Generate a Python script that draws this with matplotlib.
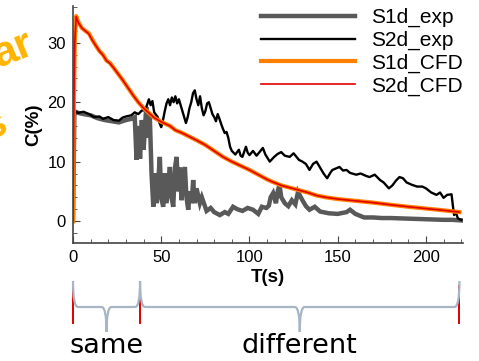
import matplotlib
matplotlib.use("Agg")
import matplotlib.pyplot as plt
from matplotlib.path import Path
from matplotlib.patches import PathPatch
from matplotlib.ticker import MultipleLocator
import matplotlib.transforms as mtransforms

plt.rcParams['font.family'] = ['Liberation Sans', 'DejaVu Sans']

# S1d_exp (gray)
t_s1_exp = [0, 0.8, 3, 6, 10, 14, 18, 22, 26, 30, 33, 35, 36, 37, 38, 39, 40, 41.5, 42.5, 43.5,
            44.5, 45.5, 46.5, 47.5, 49.2, 50, 51.1, 52, 53, 54.9, 55.8, 56.8, 57.8, 58.7, 59.7,
            60.5, 61.5, 62.4, 63.4, 64.3, 65.3, 66.2, 67.2, 68.1, 69, 70, 71.9, 73, 75.7, 78, 80,
            83.2, 86, 88, 90.7, 93, 96, 99, 102, 105, 107, 109.6, 111, 112, 113.4, 115, 116, 117,
            118, 120, 122, 124, 126, 127.5, 130, 132, 134, 137, 140, 145, 150, 155, 157, 160, 165,
            170, 175, 180, 190, 200, 210, 215, 220]
c_s1_exp = [0, 18.5, 18.2, 18.0, 17.8, 17.3, 17.0, 16.8, 16.6, 17.0, 17.2, 17.5, 10.3, 16.0, 10.5,
            17.0, 12.0, 19.2, 14.0, 18.0, 8.0, 2.4, 8.0, 3.0, 10.8, 4.0, 2.4, 8.0, 3.0, 9.1, 4.0,
            2.4, 9.0, 10.8, 5.0, 9.0, 3.5, 7.0, 9.1, 4.0, 1.9, 5.0, 3.0, 6.9, 3.0, 5.5, 3.0, 4.0,
            1.7, 2.2, 1.5, 1.0, 1.5, 1.2, 2.4, 2.0, 1.7, 2.2, 1.9, 1.2, 2.4, 2.2, 2.6, 4.0, 4.7,
            3.0, 5.0, 6.1, 4.0, 3.0, 2.5, 3.5, 2.8, 4.9, 3.5, 2.5, 1.9, 2.4, 1.6, 1.3, 1.2, 1.5,
            1.9, 1.2, 0.6, 0.6, 0.5, 0.5, 0.4, 0.3, 0.2, 0.2, 0.1]

# S2d_exp (black)
t_s2_exp = [0, 0.8, 3, 6, 9, 12, 15, 17, 20, 23, 26, 28, 30, 33, 35, 37, 39, 41, 43, 44, 45, 46,
            48, 49, 50, 51, 52, 53, 54, 55, 56, 57, 58, 59, 60, 62, 63, 64, 65, 66, 67, 68, 69,
            70, 71, 72, 73, 74, 75, 76, 77, 78, 79, 80, 81, 82, 83, 84, 85, 86, 87, 88, 89, 90,
            92, 94, 95, 96, 98, 99, 100, 102, 104, 107.6, 109, 111.5, 114, 116, 118, 120, 122.8,
            125, 128, 130, 132, 134, 136, 138, 140, 142, 144, 146, 147, 151, 153, 155, 157,
            160.5, 163, 166, 168, 171, 174, 176, 179, 181, 183, 185, 187, 189, 192, 195, 198,
            200, 203, 206, 208, 210, 212, 214.5, 215.5, 216, 217, 218, 219, 220]
c_s2_exp = [0, 18.5, 18.2, 18.4, 18.0, 17.5, 17.6, 17.2, 17.5, 17.0, 16.9, 17.4, 17.6, 17.8, 18.3,
            18.0, 18.6, 18.7, 20.5, 19.5, 20.2, 18.3, 17.5, 16.5, 15.8, 17.0, 18.5, 19.8, 20.5,
            19.5, 20.8, 20.0, 21.0, 19.8, 20.5, 18.5, 17.5, 16.5, 17.5, 19.0, 20.0, 21.5, 22.0,
            20.5, 19.5, 21.0, 19.0, 17.8, 18.5, 19.8, 20.0, 19.0, 18.0, 17.5, 16.8, 18.0, 17.2,
            16.3, 15.5, 14.8, 15.0, 14.0, 12.5, 11.8, 11.2, 12.0, 11.0, 10.8, 12.5, 11.5, 11.1,
            11.8, 11.0, 12.3, 11.2, 10.0, 10.8, 11.3, 11.6, 11.0, 10.8, 11.4, 10.3, 10.0, 9.6,
            8.6, 9.6, 10.0, 9.0, 8.0, 7.2, 8.2, 8.6, 9.1, 8.5, 8.6, 8.1, 7.8, 8.0, 7.6, 7.4, 7.8,
            6.9, 6.5, 5.5, 6.0, 6.8, 7.4, 7.2, 6.5, 6.1, 5.8, 5.8, 5.5, 4.8, 4.4, 4.8, 3.9, 4.4,
            4.5, 2.0, 1.0, 1.5, 0.5, 0.3, 0.2]

# S1d_CFD / S2d_CFD (nearly identical)
t_cfd = [0, 0.5, 1, 1.8, 3, 5, 7, 9, 11, 13, 15, 17, 19, 21, 23, 25, 28, 31, 34, 37, 40, 43, 46,
         50, 55, 58, 62, 66, 70, 75, 80, 85, 90, 95, 100, 105, 110, 113, 118, 123, 128, 133, 138,
         143, 150, 160, 170, 181, 190, 200, 210, 219]
c_s1_cfd = [0, 20, 30, 34.5, 33.5, 32.5, 32.0, 31.6, 30.5, 29.5, 28.6, 28.0, 27.0, 26.6, 25.8,
            25.0, 23.8, 22.5, 21.2, 20.0, 19.0, 18.2, 17.4, 16.7, 16.0, 15.3, 14.8, 14.2, 13.6,
            12.8, 11.8, 10.8, 10.0, 9.3, 8.6, 7.8, 7.0, 6.6, 6.0, 5.6, 5.2, 4.8, 4.3, 4.0, 3.7,
            3.4, 3.1, 2.7, 2.4, 2.1, 1.8, 1.5]
c_s2_cfd = [0, 20, 30, 34.4, 33.4, 32.5, 32.0, 31.5, 30.4, 29.5, 28.6, 27.9, 27.0, 26.5, 25.8,
            25.0, 23.8, 22.5, 21.2, 20.0, 19.0, 18.2, 17.4, 16.7, 16.0, 15.3, 14.8, 14.2, 13.6,
            12.8, 11.8, 10.8, 10.0, 9.3, 8.6, 7.8, 7.0, 6.6, 6.0, 5.6, 5.2, 4.8, 4.3, 4.0, 3.7,
            3.4, 3.1, 2.7, 2.4, 2.1, 1.8, 1.5]

# bracket marks (time, s)
marks = [0, 38, 219]
groups = ["same", "different"]

W, H = 479, 361
fig = plt.figure(figsize=(W / 100, H / 100), dpi=100)
ax = fig.add_axes([73 / W, 1 - 243 / H, (463 - 73) / W, (243 - 6) / H])

ax.plot(t_s1_exp, c_s1_exp, color='#595959', lw=3.2, label='S1d_exp', solid_joinstyle='miter')
ax.plot(t_s2_exp, c_s2_exp, color='black', lw=1.7, label='S2d_exp')
ax.plot(t_cfd, c_s1_cfd, color='#ff8000', lw=3.0, label='S1d_CFD')
ax.plot(t_cfd, c_s2_cfd, color='#e00000', lw=1.2, label='S2d_CFD')

ax.set_xlim(0, 221)
ax.set_ylim(-3.7, 36.2)
ax.xaxis.set_major_locator(MultipleLocator(50))
ax.xaxis.set_minor_locator(MultipleLocator(10))
ax.yaxis.set_major_locator(MultipleLocator(10))
ax.yaxis.set_minor_locator(MultipleLocator(2))
for s in ['top', 'right']:
    ax.spines[s].set_visible(False)
for s in ['left', 'bottom']:
    ax.spines[s].set_color('#444444')
    ax.spines[s].set_linewidth(1.2)
ax.tick_params(which='both', direction='in', colors='#444444', labelcolor='black', labelsize=12)
ax.tick_params(which='major', length=5, pad=5)
ax.tick_params(which='minor', length=3)
ax.set_xlabel('T(s)', fontsize=13.5, fontweight='bold', labelpad=3)
ax.set_ylabel('C(%)', fontsize=13.5, fontweight='bold', labelpad=4)

ax.legend(loc='upper right', bbox_to_anchor=(463 / W, 1 - 8 / H), bbox_transform=fig.transFigure,
          frameon=False, fontsize=15, handlelength=4.5, handletextpad=0.8, labelspacing=0.17,
          borderpad=0, borderaxespad=0)

# bracket annotation under the axis
tr = mtransforms.blended_transform_factory(ax.transData, fig.transFigure)
y_top = 1 - 281 / H
y_h = 1 - 307 / H
y_tip = 1 - 332 / H
for m in marks:
    ax.plot([m, m], [1 - 286 / H, 1 - 323 / H], color='#dd0000', lw=1.4, transform=tr, clip_on=False)


def brace(x0, x1, d=2.8):
    xm = (x0 + x1) / 2
    verts = [(x0, y_top), (x0, y_h), (x0 + d, y_h), (xm - d, y_h), (xm, y_h), (xm, y_tip),
             (xm, y_h), (xm + d, y_h), (x1 - d, y_h), (x1, y_h), (x1, y_top)]
    codes = [Path.MOVETO, Path.CURVE3, Path.CURVE3, Path.LINETO, Path.CURVE3, Path.CURVE3,
             Path.CURVE3, Path.CURVE3, Path.LINETO, Path.CURVE3, Path.CURVE3]
    p = PathPatch(Path(verts, codes), fc='none', ec='#a8b5c5', lw=1.6, transform=tr, clip_on=False)
    fig.add_artist(p)
    return xm


for i, g in enumerate(groups):
    xm = brace(marks[i], marks[i + 1])
    fig.text(xm, 1 - 346 / H, g, transform=tr, ha='center', va='center', fontsize=19.5,
             family='DejaVu Sans', color='black')

# orange fragments of overlapping slide text
fig.text(-1 / W, 1 - 68 / H, 'ar', rotation=22, rotation_mode='anchor', ha='left', va='baseline',
         fontsize=31, fontweight='bold', color='#ffb400')
fig.text(10 / W, 1 - 132 / H, 's', rotation=22, rotation_mode='anchor', ha='right', va='baseline',
         fontsize=31, fontweight='bold', color='#ffb400')

fig.savefig('out.png', dpi=100)
